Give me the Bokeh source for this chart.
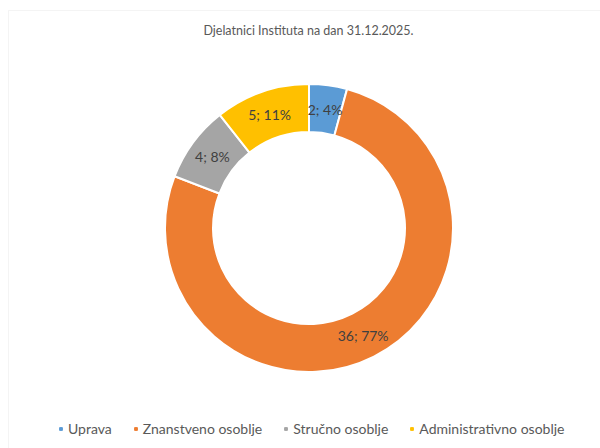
import math
from bokeh.plotting import figure
from bokeh.models import Range1d, Legend, LegendItem, Label, BoxAnnotation, ColumnDataSource
from bokeh.core.properties import value
from bokeh.embed import file_html
from bokeh.resources import INLINE

# ---- data ----
title = "Djelatnici Instituta na dan 31.12.2025."
categories = ["Uprava", "Znanstveno osoblje", "Stručno osoblje", "Administrativno osoblje"]
counts = [2, 36, 4, 5]
percent_labels = ["4%", "77%", "8%", "11%"]
colors = ["#5B9BD5", "#ED7D31", "#A5A5A5", "#FFC000"]

W, H = 600, 448
FONT = "Lato"

p = figure(width=W, height=H, output_backend="svg", toolbar_location=None,
           x_range=Range1d(0, W), y_range=Range1d(0, H), min_border=0)
p.axis.visible = False
p.grid.visible = False
p.outline_line_color = None
p.background_fill_color = "white"
p.border_fill_color = "white"

# chart frame border
p.add_layout(BoxAnnotation(left=8, right=W + 100, bottom=-100, top=H - 10,
                           fill_alpha=0, line_color="#d9d9d9", line_width=1))

# donut geometry
cx, cy = 308.5, H - 227.5
r_in, r_out = 96, 144
total = sum(counts)
starts, ends, mids = [], [], []
cum = 0
for c in counts:
    a0 = math.pi / 2 - 2 * math.pi * cum / total
    cum += c
    a1 = math.pi / 2 - 2 * math.pi * cum / total
    starts.append(a0)
    ends.append(a1)
    mids.append((a0 + a1) / 2)

r_mid = (r_in + r_out) / 2
src = ColumnDataSource(dict(
    start=starts, end=ends, color=colors, cat=categories,
    lx=[cx + r_mid * math.cos(m) for m in mids],
    ly=[cy + r_mid * math.sin(m) for m in mids],
    lab=[f"{c}; {pc}" for c, pc in zip(counts, percent_labels)],
))

p.annular_wedge(x=cx, y=cy, inner_radius=r_in, outer_radius=r_out,
                start_angle="start", end_angle="end", direction="clock",
                fill_color="color", line_color="white", line_width=2, source=src)

p.text(x="lx", y="ly", text="lab", source=src, text_align="center",
       text_baseline="middle", text_font=value(FONT), text_font_size="14px",
       text_color="#404040")

p.add_layout(Label(x=308, y=H - 30, text=title, text_align="center",
                   text_baseline="middle", text_font=FONT, text_font_size="12.5px",
                   text_color="#595959"))

# legend (proxy square markers placed off-canvas so only the legend shows them)
items = []
for cat, col in zip(categories, colors):
    r = p.scatter(x=[-50], y=[-50], marker="square", size=7, fill_color=col, line_color=col)
    items.append(LegendItem(label=cat, renderers=[r]))
legend = Legend(items=items, orientation="horizontal", location=(57, 11),
                label_text_font=FONT, label_text_font_size="14px",
                label_text_color="#595959", glyph_width=7, glyph_height=7,
                label_standoff=4, spacing=20, padding=0, margin=0,
                border_line_color=None, background_fill_alpha=0)
p.add_layout(legend, "center")

with open("out.html", "w") as f:
    f.write(file_html(p, INLINE))
